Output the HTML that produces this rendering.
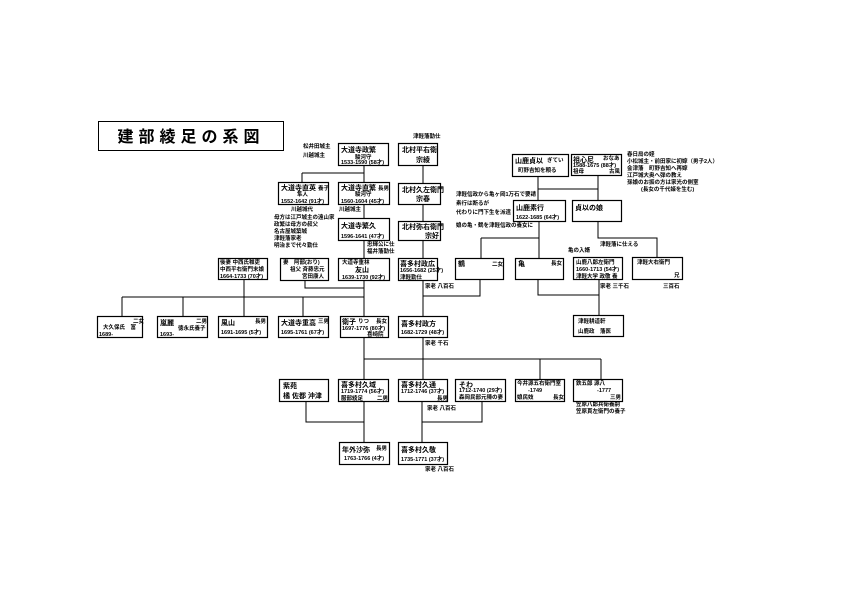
<!DOCTYPE html>
<html><head><meta charset="utf-8"><style>
body{margin:0;background:#fff}
svg{display:block}
text{font-family:"Liberation Sans","Noto Sans CJK JP",sans-serif;fill:#000}
.n{font-size:7px;font-weight:bold}
.s{font-size:5.5px;font-weight:bold}
</style></head><body>
<svg width="841" height="595" viewBox="0 0 841 595" xmlns="http://www.w3.org/2000/svg">
<g fill="#fff" stroke="#000" stroke-width="1">
<rect x="98.5" y="121.5" width="185" height="29"/>
</g>
<text x="191" y="142" text-anchor="middle" style="font-size:16px;font-weight:bold;letter-spacing:5px">建部綾足の系図</text>
<g stroke="#000" stroke-width="1" fill="none">
<path d="M364 166V173M302 173H364M302 173V182M364 173V182"/>
<path d="M364 204V218M364 240V258M364 280V379M423 165V183M423 204V221M423 240V258M423 280V379"/>
<path d="M305 280V288H364"/>
<path d="M244 279V297M122 297H364M122 297V316M183 297V316M244 297V316M303 297V316"/>
<path d="M423 296H480V279"/>
<path d="M364 359H601M540 359V379M601 359V379"/>
<path d="M306 401V422H364M364 401V442M422 401V442M482 401V422H422"/>
<path d="M538 176V200M538 189H598M598 175V200"/>
<path d="M539 221V258M481 238H539M481 238V258"/>
<path d="M598 221V238H657V258"/>
<path d="M538 279V295H599M599 279V315"/>
</g>
<g fill="#fff" stroke="#000" stroke-width="1.2">
<rect x="338.5" y="143.5" width="50" height="22"/>
<rect x="398.5" y="143.5" width="39" height="22"/>
<rect x="278.5" y="182.5" width="50" height="22"/>
<rect x="338.5" y="182.5" width="51" height="22"/>
<rect x="398.5" y="183.5" width="42" height="21"/>
<rect x="338.5" y="218.5" width="51" height="22"/>
<rect x="398.5" y="221.5" width="42" height="19"/>
<rect x="218.5" y="258.5" width="49" height="21"/>
<rect x="280.5" y="258.5" width="48" height="22"/>
<rect x="338.5" y="258.5" width="51" height="22"/>
<rect x="398.5" y="258.5" width="39" height="22"/>
<rect x="455.5" y="258.5" width="48" height="21"/>
<rect x="515.5" y="258.5" width="48" height="21"/>
<rect x="573.5" y="257.5" width="49" height="22"/>
<rect x="632.5" y="257.5" width="50" height="22"/>
<rect x="512.5" y="154.5" width="56" height="22"/>
<rect x="571.5" y="154.5" width="50" height="21"/>
<rect x="513.5" y="200.5" width="52" height="21"/>
<rect x="572.5" y="200.5" width="49" height="21"/>
<rect x="97.5" y="316.5" width="45" height="21"/>
<rect x="157.5" y="316.5" width="50" height="21"/>
<rect x="218.5" y="316.5" width="49" height="21"/>
<rect x="278.5" y="316.5" width="50" height="21"/>
<rect x="340.5" y="316.5" width="48" height="21"/>
<rect x="398.5" y="316.5" width="49" height="21"/>
<rect x="573.5" y="315.5" width="50" height="21"/>
<rect x="279.5" y="379.5" width="49" height="22"/>
<rect x="338.5" y="379.5" width="50" height="22"/>
<rect x="398.5" y="379.5" width="49" height="22"/>
<rect x="455.5" y="379.5" width="50" height="22"/>
<rect x="515.5" y="379.5" width="49" height="22"/>
<rect x="573.5" y="379.5" width="49" height="22"/>
<rect x="339.5" y="442.5" width="50" height="22"/>
<rect x="398.5" y="442.5" width="49" height="22"/>
</g>
<text class="n" x="341" y="152">大道寺政繁</text><text class="s" x="355" y="159">駿河守</text><text class="s" x="341" y="164">1533-1590 (58才)</text>
<text class="n" x="402" y="152">北村平右衛</text><text class="n" x="416" y="162">宗綾</text>
<text class="s" x="413" y="138">津軽藩勤仕</text>
<text class="s" x="303" y="148">松井田城主</text><text class="s" x="303" y="157">川越城主</text>
<text class="n" x="281" y="190">大道寺直英</text><text class="s" x="318" y="190">養子</text><text class="s" x="297" y="196">隼人</text><text class="s" x="281" y="203">1552-1642 (91才)</text>
<text class="n" x="341" y="190">大道寺直繁</text><text class="s" x="378" y="190">長男</text><text class="s" x="355" y="196">駿河守</text><text class="s" x="341" y="203">1560-1604 (45才)</text>
<text class="s" x="291" y="211">川越城代</text><text class="s" x="339" y="211">川越城主</text>
<text class="s" x="274" y="219">母方は江戸城主の遠山家</text><text class="s" x="274" y="226">政繁は母方の叔父</text><text class="s" x="274" y="233">名古屋城築城</text><text class="s" x="274" y="240">津軽藩家老</text><text class="s" x="274" y="247">明治まで代々勤仕</text>
<text class="n" x="402" y="192">北村久左衛門</text><text class="n" x="416" y="201">宗春</text>
<text class="n" x="341" y="228">大道寺繁久</text><text class="s" x="341" y="238">1596-1641 (47才)</text>
<text class="n" x="402" y="229">北村弥右衛門</text><text class="n" x="425" y="238">宗好</text>
<text class="s" x="367" y="246">忠輝公に仕</text><text class="s" x="367" y="253">福井藩勤仕</text>
<text class="s" x="220" y="264">後妻 中西氏稚吏</text><text class="s" x="220" y="271">中西平右衛門末娘</text><text class="s" x="220" y="278">1664-1733 (70才)</text>
<text class="s" x="283" y="264">妻　阿部(おり)</text><text class="s" x="290" y="271">祖父 斉藤忠元</text><text class="s" x="302" y="278">宮田康人</text>
<text class="s" x="342" y="264">大道寺重林</text><text class="n" x="355" y="272">友山</text><text class="s" x="342" y="279">1639-1730 (92才)</text>
<text class="n" x="400" y="266">喜多村政広</text><text class="s" x="400" y="272">1656-1682 (25才)</text><text class="s" x="400" y="279">津軽勤仕</text>
<text class="s" x="425" y="288">家老 八百石</text>
<text class="n" x="458" y="266">鶴</text><text class="s" x="492" y="266">二女</text>
<text class="n" x="518" y="266">亀</text><text class="s" x="551" y="265">長女</text>
<text class="s" x="576" y="264">山鹿八郎左衛門</text><text class="s" x="576" y="271">1660-1713 (54才)</text><text class="s" x="576" y="278">津軽大学 政敬 養</text>
<text class="s" x="637" y="264">津軽大右衛門</text><text class="s" x="674" y="277">兄</text>
<text class="s" x="568" y="252">亀の入婿</text><text class="s" x="600" y="246">津軽藩に仕える</text>
<text class="s" x="600" y="288">家老 三千石</text><text class="s" x="663" y="288">三百石</text>
<text class="n" x="515" y="163">山鹿貞以</text><text class="s" x="547" y="162">ぎてい</text><text class="s" x="518" y="172">町野吉知を頼る</text>
<text class="n" x="573" y="162">祖心尼</text><text class="s" x="603" y="160">おなあ</text><text class="s" x="573" y="167">1588-1675 (88才)</text><text class="s" x="573" y="173">祖母</text><text class="s" x="609" y="173">古風</text>
<text class="s" x="627" y="156">春日局の姪</text><text class="s" x="627" y="163">小松城主・前田家に初嫁（男子2人）</text><text class="s" x="627" y="170">会津藩　町野吉知へ再嫁</text><text class="s" x="627" y="177">江戸城大奥へ弾の教え</text><text class="s" x="627" y="184">孫娘のお振の方は家光の側室</text><text class="s" x="641" y="191">(長女の千代姫を生む)</text>
<text class="s" x="456" y="196">津軽信政から亀ヶ岡1万石で要請</text><text class="s" x="456" y="205">素行は断るが</text><text class="s" x="456" y="214">代わりに門下生を派遣</text><text class="s" x="456" y="227">娘の亀・鶴を津軽信政の養女に</text>
<text class="n" x="516" y="210">山鹿素行</text><text class="s" x="516" y="219">1622-1685 (64才)</text>
<text class="n" x="575" y="210">貞以の娘</text>
<text class="s" x="578" y="323">津軽耕道軒</text><text class="s" x="578" y="333">山鹿政　藩医</text>
<text class="s" x="133" y="323">二女</text><text class="s" x="103" y="329">大久保氏　富</text><text class="s" x="99" y="336">1689-</text>
<text class="n" x="160" y="325">嵐麗</text><text class="s" x="196" y="323">二男</text><text class="s" x="178" y="330">徳永氏養子</text><text class="s" x="160" y="336">1693-</text>
<text class="n" x="221" y="325">風山</text><text class="s" x="255" y="323">長男</text><text class="s" x="221" y="334">1691-1695 (5才)</text>
<text class="n" x="281" y="325">大道寺重高</text><text class="s" x="318" y="323">三男</text><text class="s" x="281" y="334">1695-1761 (67才)</text>
<text class="n" x="342" y="324">衛子</text><text class="s" x="358" y="323">りつ</text><text class="s" x="376" y="323">長女</text><text class="s" x="342" y="330">1697-1776 (80才)</text><text class="s" x="367" y="336">喜崎院</text>
<text class="n" x="401" y="326">喜多村政方</text><text class="s" x="401" y="334">1682-1729 (48才)</text>
<text class="s" x="425" y="345">家老 千石</text>
<text class="n" x="283" y="388">紫苑</text><text class="n" x="283" y="398">橘 佐都 沖津</text>
<text class="n" x="341" y="387">喜多村久域</text><text class="s" x="341" y="393">1719-1774 (56才)</text><text class="s" x="341" y="400">服部綾足</text><text class="s" x="377" y="400">二男</text>
<text class="n" x="401" y="387">喜多村久通</text><text class="s" x="401" y="393">1712-1746 (37才)</text><text class="s" x="437" y="400">長男</text>
<text class="n" x="459" y="387">そわ</text><text class="s" x="459" y="392">1712-1740 (29才)</text><text class="s" x="459" y="399">森岡民部元陳の妻</text>
<text class="s" x="517" y="385">今井源五右衛門室</text><text class="s" x="528" y="392">-1749</text><text class="s" x="517" y="399">娘民妓</text><text class="s" x="553" y="399">長女</text>
<text class="s" x="576" y="385">鉄五郎 源八</text><text class="s" x="597" y="392">-1777</text><text class="s" x="610" y="399">三男</text>
<text class="s" x="576" y="406">笠原八郎兵衛養嗣</text><text class="s" x="576" y="413">笠原貫左衛門の養子</text>
<text class="s" x="427" y="410">家老 八百石</text>
<text class="n" x="342" y="452">年外沙弥</text><text class="s" x="376" y="450">長男</text><text class="s" x="344" y="460">1763-1766 (4才)</text>
<text class="n" x="401" y="452">喜多村久敬</text><text class="s" x="401" y="461">1735-1771 (37才)</text>
<text class="s" x="425" y="471">家老 八百石</text>
</svg>
</body></html>
